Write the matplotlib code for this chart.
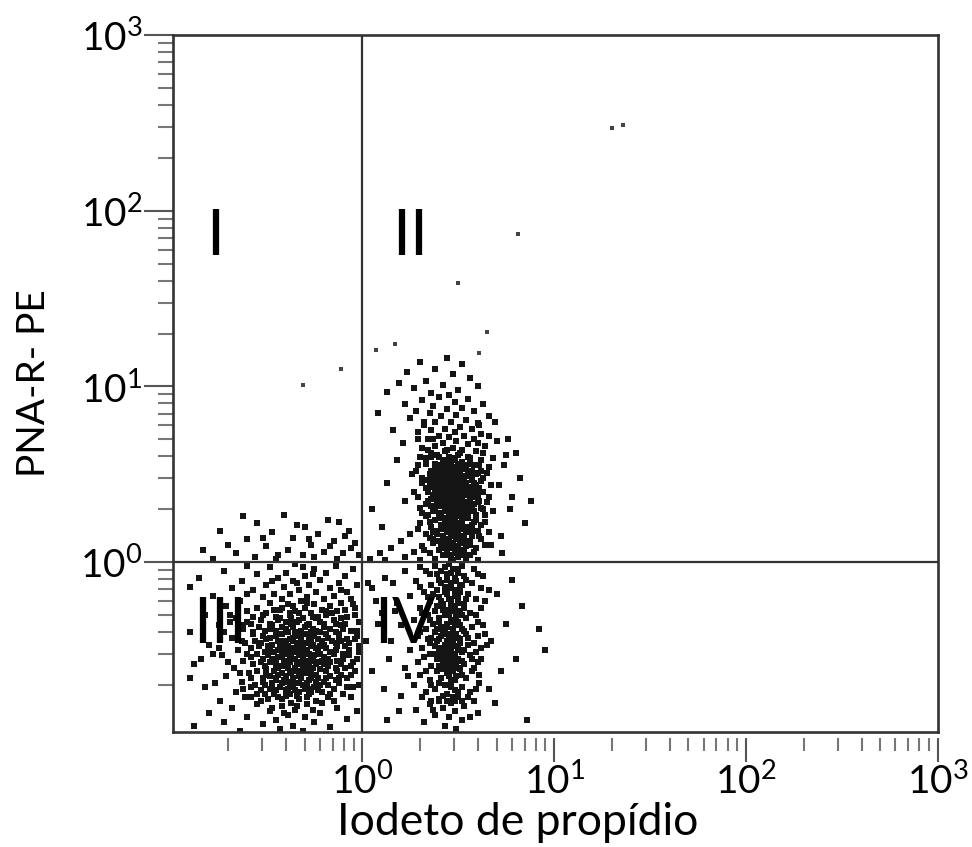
import numpy as np
import matplotlib
matplotlib.use("Agg")
import matplotlib.pyplot as plt
from matplotlib.ticker import LogLocator, NullFormatter, FixedLocator

plt.rcParams['font.family'] = ['Lato', 'DejaVu Sans']
plt.rcParams['mathtext.default'] = 'regular'

# events, stored as (log10 PI, log10 PNA-R-PE)
iii_log = [
    (-.62,.26),(-.41,.27),(-.18,.24),(-.55,.22),(-.30,.20),(-.12,.23),(-.74,.18),(-.47,.17),(-.23,.16),(-.07,.18),
    (-.36,.14),(-.60,.13),(-.15,.12),(-.27,.10),(-.50,.09),(-.04,.11),(-.83,.07),(-.39,.07),(-.20,.06),(-.66,.05),
    (-.10,.05),(-.31,.04),(-.56,.03),(-.02,.04),(-.45,.02),(-.25,.03),(-.13,.02),(-.70,.10),(-.34,.21),(-.09,.15),
    (-.52,.14),(-.44,.04),(-.78,.02),(-.06,.08),(-.28,.13),(-.17,.09),
    (-.35,-.01),(-.60,-.02),(-.14,-.02),(-.48,-.03),(-.25,-.04),(-.05,-.04),(-.72,-.05),(-.40,-.06),(-.19,-.06),
    (-.55,-.07),(-.30,-.08),(-.09,-.08),(-.85,-.09),(-.44,-.09),(-.22,-.10),(-.63,-.11),(-.36,-.11),(-.12,-.12),
    (-.50,-.13),(-.28,-.13),(-.03,-.13),(-.41,-.14),(-.17,-.15),(-.68,-.15),(-.33,-.16),(-.57,-.16),(-.24,-.17),
    (-.08,-.17),(-.46,-.18),(-.38,-.18),(-.78,-.19),(-.15,-.19),(-.29,-.20),(-.52,-.20),(-.20,-.21),(-.42,-.21),
    (-.06,-.21),(-.34,-.12),(-.26,-.07),(-.47,-.11),(-.11,-.16),(-.60,-.18),(-.31,-.03),(-.90,-.14),
    (-.64,-.22),(-.32,-.22),(-.11,-.23),(-.48,-.23),(-.25,-.24),(-.39,-.24),(-.71,-.25),(-.17,-.25),(-.55,-.26),
    (-.30,-.26),(-.04,-.26),(-.43,-.27),(-.21,-.27),(-.35,-.28),(-.60,-.28),(-.13,-.28),(-.27,-.29),(-.50,-.29),
    (-.82,-.30),(-.38,-.30),(-.19,-.30),(-.08,-.31),(-.45,-.31),(-.31,-.32),(-.66,-.32),(-.24,-.32),(-.53,-.33),
    (-.15,-.33),(-.40,-.34),(-.34,-.34),(-.02,-.34),(-.58,-.35),(-.28,-.35),(-.20,-.35),(-.47,-.36),(-.75,-.36),
    (-.11,-.36),(-.36,-.37),(-.42,-.37),(-.26,-.38),(-.62,-.38),(-.17,-.38),(-.51,-.39),(-.32,-.39),(-.06,-.39),
    (-.90,-.40),(-.39,-.40),(-.22,-.40),(-.29,-.23),(-.36,-.25),(-.23,-.31),(-.33,-.29),(-.44,-.33),(-.16,-.29),
    (-.30,-.37),(-.27,-.40),(-.48,-.38),(-.57,-.31),(-.37,-.32),(-.14,-.40),(-.42,-.26),(-.20,-.37),(-.69,-.34),
    (-.09,-.27),
    (-.57,-.41),(-.30,-.41),(-.12,-.41),(-.45,-.42),(-.25,-.42),(-.36,-.43),(-.68,-.43),(-.18,-.43),(-.50,-.44),
    (-.04,-.44),(-.41,-.45),(-.28,-.45),(-.21,-.45),(-.61,-.46),(-.34,-.46),(-.14,-.46),(-.47,-.47),(-.80,-.47),
    (-.26,-.47),(-.39,-.48),(-.09,-.48),(-.54,-.48),(-.31,-.49),(-.19,-.49),(-.44,-.50),(-.65,-.50),(-.23,-.50),
    (-.36,-.51),(-.02,-.51),(-.51,-.51),(-.28,-.52),(-.15,-.52),(-.42,-.53),(-.73,-.53),(-.33,-.53),(-.58,-.54),
    (-.20,-.54),(-.38,-.55),(-.10,-.55),(-.47,-.55),(-.26,-.56),(-.62,-.56),(-.31,-.57),(-.17,-.57),(-.53,-.57),
    (-.40,-.58),(-.88,-.58),(-.24,-.58),(-.06,-.59),(-.45,-.59),(-.35,-.60),(-.67,-.60),(-.29,-.60),
    (-.33,-.42),(-.38,-.44),(-.27,-.44),(-.32,-.47),(-.43,-.47),(-.22,-.48),(-.35,-.49),(-.48,-.50),(-.29,-.50),
    (-.40,-.51),(-.25,-.53),(-.37,-.53),(-.31,-.54),(-.45,-.56),(-.21,-.56),(-.34,-.57),(-.28,-.58),(-.42,-.59),
    (-.18,-.59),(-.49,-.53),(-.56,-.45),(-.14,-.50),(-.60,-.52),(-.11,-.58),(-.52,-.42),(-.75,-.49),(-.84,-.55),
    (-.07,-.53),
    (-.50,-.61),(-.22,-.61),(-.38,-.62),(-.13,-.62),(-.59,-.63),(-.31,-.63),(-.44,-.64),(-.26,-.64),(-.71,-.65),
    (-.17,-.65),(-.36,-.66),(-.52,-.66),(-.08,-.66),(-.41,-.67),(-.28,-.67),(-.63,-.68),(-.20,-.68),(-.47,-.69),
    (-.33,-.69),(-.12,-.69),(-.56,-.70),(-.38,-.70),(-.25,-.71),(-.82,-.71),(-.43,-.71),(-.15,-.72),(-.30,-.72),
    (-.53,-.73),(-.35,-.73),(-.21,-.74),(-.66,-.74),(-.46,-.75),(-.10,-.75),(-.28,-.75),(-.40,-.76),(-.58,-.77),
    (-.18,-.77),(-.33,-.78),(-.49,-.78),(-.24,-.79),(-.74,-.79),(-.37,-.80),
    (-.34,-.62),(-.27,-.62),(-.42,-.63),(-.48,-.65),(-.23,-.66),(-.32,-.66),(-.39,-.68),(-.45,-.67),(-.29,-.69),
    (-.51,-.70),(-.36,-.71),(-.22,-.70),(-.48,-.72),(-.40,-.73),(-.27,-.74),(-.55,-.75),(-.34,-.76),(-.44,-.77),
    (-.62,-.72),(-.05,-.71),(-.90,-.66),(-.15,-.79),
    (-.55,-.81),(-.29,-.81),(-.42,-.82),(-.13,-.83),(-.68,-.83),(-.35,-.84),(-.48,-.85),(-.22,-.86),(-.80,-.86),
    (-.39,-.87),(-.60,-.88),(-.30,-.88),(-.08,-.89),(-.45,-.90),(-.72,-.91),(-.25,-.91),(-.52,-.92),(-.36,-.93),
    (-.88,-.93),(-.17,-.94),(-.43,-.95),(-.64,-.96),(-.31,-.96),(-.03,-.85),
    (-.46,-.27),(-.19,-.28),(-.38,-.29),(-.52,-.30),(-.26,-.31),(-.11,-.32),(-.43,-.32),(-.33,-.33),(-.60,-.34),
    (-.22,-.34),(-.48,-.35),(-.37,-.35),(-.14,-.35),(-.29,-.36),(-.54,-.37),(-.40,-.38),(-.24,-.39),(-.45,-.39),
    (-.10,-.38),(-.35,-.40),(-.57,-.40),(-.19,-.41),(-.42,-.41),(-.28,-.42),(-.48,-.43),(-.12,-.43),(-.32,-.44),
    (-.23,-.44),(-.44,-.45),(-.36,-.45),(-.16,-.45),(-.53,-.46),(-.29,-.46),(-.07,-.46),(-.40,-.47),(-.20,-.47),
    (-.49,-.48),(-.27,-.48),(-.13,-.48),(-.37,-.49),(-.58,-.49),(-.24,-.49),(-.42,-.50),(-.33,-.50),(-.17,-.51),
    (-.46,-.51),(-.30,-.51),(-.55,-.52),(-.22,-.52),(-.39,-.52),(-.10,-.52),(-.44,-.54),(-.27,-.54),(-.35,-.55),
    (-.18,-.55),(-.52,-.55),(-.41,-.56),(-.29,-.56),(-.13,-.56),(-.48,-.57),(-.23,-.57),(-.38,-.57),(-.57,-.58),
    (-.32,-.58),(-.20,-.58),(-.44,-.60),(-.26,-.60),(-.14,-.60),(-.51,-.59),(-.39,-.60),(-.31,-.61),(-.46,-.62),
    (-.19,-.62),(-.55,-.62),(-.29,-.63),(-.37,-.63),(-.24,-.64),(-.50,-.64),(-.11,-.64),(-.40,-.65),(-.33,-.65),
    (-.58,-.66),(-.19,-.66),(-.27,-.66),(-.45,-.66),(-.36,-.68),(-.24,-.68),(-.52,-.68),(-.14,-.67),(-.42,-.69),
    (-.31,-.70),(-.18,-.70),(-.47,-.71),(-.28,-.72),(-.39,-.72),(-.58,-.71),(-.23,-.73),(-.45,-.73),(-.33,-.74),
    (-.51,-.75),(-.38,-.75),(-.17,-.75),(-.42,-.78),(-.29,-.77),(-.53,-.79),(-.21,-.80),(-.34,-.82),(-.47,-.83),
    (-.26,-.84),(-.41,-.86),(-.08,-.44),(-.05,-.57),(-.03,-.39),(-.06,-.64),(-.02,-.48),(-.04,-.30),
    (-.65,-.25),(-.72,-.40),(-.63,-.45),(-.70,-.57),(-.64,-.63),(-.77,-.69),(-.61,-.77),(-.69,-.30),(-.78,-.52),
    (-.62,-.36),(-.05,-.24),(-.09,-.35),(-.03,-.42),(-.07,-.50),(-.04,-.62),(-.09,-.60),(-.02,-.70),(-.06,-.77),
    (-.11,-.45),(-.03,-.55),(-.08,-.71),(-.12,-.66),
]

band_hi_log = [
    (.44,1.16),(.30,1.14),(.52,1.13),(.38,1.10),(.23,1.08),(.47,1.07),(.56,1.05),(.33,1.03),(.19,1.02),(.42,1.01),
    (.60,1.00),(.27,.99),(.50,.98),(.13,.97),(.36,.96),(.45,.95),
    (.40,.94),(.55,.93),(.31,.92),(.48,.91),(.22,.90),(.63,.90),(.37,.89),(.52,.88),(.44,.87),(.28,.86),
    (.58,.86),(.35,.85),(.49,.84),(.41,.83),(.66,.83),(.25,.82),(.54,.81),(.46,.80),(.38,.80),(.60,.79),
    (.32,.78),(.51,.77),(.43,.76),(.57,.76),(.36,.75),(.48,.74),(.29,.74),(.62,.73),(.40,.72),(.53,.72),
    (.45,.71),(.34,.70),(.58,.70),(.70,.69),(.49,.69),(.42,.68),(.21,.68),(.55,.67),(.38,.66),(.64,.66),
    (.47,.65),(.31,.65),(.52,.64),(.43,.63),(.59,.63),(.36,.62),(.50,.61),(.75,.61),(.45,.60),(.40,.60),
    (.56,.59),(.33,.59),(.48,.58),(.62,.58),(.42,.57),(.52,.57),(.38,.56),(.46,.56),(.58,.55),(.29,.55),
    (.44,.54),(.50,.54),(.66,.54),(.40,.53),(.54,.53),(.36,.52),(.47,.52),(.60,.51),(.43,.51),(.51,.50),
    (.38,.50),(.56,.49),(.45,.49),(.31,.48),(.49,.48),(.63,.48),(.41,.47),(.53,.47),(.46,.46),(.36,.46),
    (.58,.45),(.43,.45),(.50,.44),(.71,.44),(.39,.44),(.55,.43),(.47,.43),(.33,.42),(.61,.42),(.44,.42),
    (.52,.41),(.40,.41),(.57,.40),(.48,.40),(.27,.40),(.45,.39),(.54,.39),(.37,.38),(.60,.38),(.50,.37),
    (.42,.37),(.78,.37),(.47,.36),(.56,.36),(.34,.35),(.52,.35),(.44,.34),(.65,.34),(.39,.34),(.49,.33),
    (.58,.33),(.46,.32),(.41,.32),(.54,.31),(.30,.31),(.62,.31),(.48,.30),(.43,.30),(.68,.29),(.51,.29),
    (.37,.29),
    (.45,.58),(.53,.55),(.41,.55),(.49,.52),(.57,.52),(.35,.49),(.44,.48),(.52,.46),(.40,.45),(.47,.44),
    (.59,.44),(.36,.43),(.51,.42),(.42,.40),(.55,.41),(.46,.38),(.39,.36),(.53,.38),(.61,.35),(.45,.35),
    (.50,.32),(.36,.32),(.56,.30),(.44,.31),(.47,.29),
    (.53,.28),(.40,.28),(.46,.27),(.59,.27),(.33,.26),(.50,.26),(.43,.25),(.55,.25),(.38,.24),(.48,.24),
    (.64,.23),(.45,.23),(.52,.22),(.30,.22),(.41,.21),(.57,.21),(.47,.20),(.36,.20),(.50,.19),(.44,.19),
    (.60,.18),(.39,.18),(.54,.17),(.46,.17),(.25,.16),(.49,.16),(.42,.15),(.57,.15),(.35,.14),(.51,.14),
    (.45,.13),(.62,.13),(.40,.12),(.53,.12),(.20,.12),(.47,.11),(.37,.11),(.56,.10),(.43,.10),(.31,.09),
    (.50,.09),(.46,.08),(.15,.08),(.59,.08),(.40,.07),(.53,.07),(.27,.06),(.44,.06),(.48,.05),(.35,.05),
    (.09,.05),(.56,.04),(.42,.04),(.22,.03),(.50,.03),(.38,.02),(.04,.02),(.46,.02),(.60,.01),(.30,.01),
    (.12,.01),(.54,.01),
    (.74,.55),(.82,.48),(.77,.30),(.85,.22),(.72,.15),(.80,.62),(.69,.80),(.73,.05),(.88,.35),(.67,.10),
    (.76,.70),(.05,.30),(.13,.45),(.18,.58),(.10,.20),(.22,.35),(.16,.75),(.08,.85),(.26,.50),
    (.44,.64),(.51,.62),(.39,.61),(.55,.60),(.47,.59),(.42,.58),(.50,.56),(.44,.56),(.56,.56),(.39,.54),
    (.47,.54),(.52,.53),(.43,.52),(.55,.51),(.40,.51),(.48,.50),(.45,.51),(.53,.49),(.41,.49),(.50,.47),
    (.46,.47),(.57,.47),(.38,.47),(.43,.46),(.54,.45),(.48,.45),(.45,.44),(.52,.43),(.41,.43),(.49,.42),
    (.58,.42),(.46,.41),(.38,.41),(.53,.40),(.44,.40),(.50,.39),(.40,.39),(.56,.38),(.48,.38),(.43,.38),
    (.52,.37),(.45,.37),(.59,.37),(.41,.36),(.50,.35),(.47,.34),(.55,.34),(.42,.33),(.53,.33),(.46,.33),
    (.39,.32),(.57,.32),(.49,.31),(.44,.29),(.52,.30),(.58,.29),(.41,.27),(.49,.27),(.55,.27),(.45,.26),
    (.52,.25),(.40,.25),(.47,.24),(.58,.23),(.43,.22),(.49,.22),(.54,.20),(.46,.21),(.41,.19),(.52,.19),
    (.48,.18),(.44,.17),(.57,.18),(.50,.17),(.39,.16),(.46,.15),(.53,.15),(.43,.13),(.49,.13),(.56,.12),
    (.45,.11),(.51,.11),(.41,.10),(.48,.08),(.54,.09),(.43,.08),(.50,.06),(.45,.04),(.53,.04),(.47,.01),
    (.32,.80),(.61,.78),(.29,.70),(.66,.72),(.34,.64),(.63,.62),(.30,.60),(.68,.59),(.33,.56),(.61,.55),
    (.28,.52),(.65,.51),(.35,.50),(.62,.46),(.31,.45),(.67,.44),(.34,.40),(.63,.40),(.29,.37),(.66,.37),
    (.33,.33),(.60,.34),(.31,.28),(.64,.27),(.35,.23),(.62,.21),(.29,.19),(.66,.17),(.33,.16),(.61,.15),
    (.37,.13),(.64,.10),(.32,.07),(.58,.06),(.36,.60),(.60,.68),(.37,.70),(.35,.44),(.59,.50),(.38,.53),
    (.62,.52),(.34,.47),(.60,.41),(.36,.36),(.63,.30),(.38,.31),(.59,.24),(.34,.27),(.57,.19),(.37,.17),
]

band_lo_log = [
    (.45,-.01),(.38,-.02),(.52,-.02),(.30,-.03),(.47,-.04),(.58,-.04),(.41,-.05),(.22,-.05),(.50,-.06),(.35,-.07),
    (.44,-.07),(.63,-.08),(.48,-.09),(.12,-.09),(.40,-.10),(.54,-.10),(.28,-.11),(.46,-.12),(.57,-.12),(.36,-.13),
    (.43,-.14),(.51,-.14),(.05,-.15),(.39,-.16),(.48,-.16),(.66,-.16),(.32,-.17),(.55,-.18),(.44,-.18),(.25,-.19),
    (.50,-.20),(.40,-.20),(.59,-.21),(.46,-.22),(.35,-.22),(.18,-.23),(.53,-.24),(.42,-.24),(.48,-.25),(.30,-.26),
    (.62,-.26),(.45,-.27),(.38,-.28),(.51,-.28),(.10,-.29),(.56,-.29),(.43,-.30),(.34,-.30),
    (.49,-.31),(.40,-.32),(.54,-.32),(.27,-.33),(.46,-.33),(.60,-.34),(.37,-.35),(.44,-.35),(.51,-.36),(.20,-.36),
    (.41,-.37),(.57,-.37),(.47,-.38),(.33,-.38),(.53,-.39),(.43,-.40),(.38,-.40),(.64,-.41),(.49,-.41),(.29,-.42),
    (.45,-.42),(.55,-.43),(.40,-.44),(.51,-.44),(.15,-.45),(.47,-.45),(.35,-.46),(.58,-.46),(.43,-.47),(.50,-.48),
    (.38,-.48),(.46,-.49),(.62,-.49),(.25,-.50),(.53,-.50),(.41,-.51),(.48,-.52),(.44,-.53),(.56,-.53),(.32,-.54),
    (.50,-.55),(.39,-.55),(.46,-.56),(.60,-.57),(.42,-.57),(.53,-.58),(.36,-.59),(.48,-.59),(.22,-.60),(.45,-.60),
    (.47,-.34),(.42,-.39),(.50,-.43),(.46,-.46),(.40,-.49),(.52,-.51),(.45,-.54),(.49,-.57),(.38,-.52),(.55,-.47),
    (.44,-.41),(.48,-.36),(.36,-.43),(.57,-.55),(.43,-.58),
    (.51,-.61),(.39,-.62),(.57,-.62),(.44,-.63),(.30,-.64),(.49,-.65),(.41,-.66),(.54,-.66),(.35,-.67),(.46,-.68),
    (.61,-.69),(.27,-.70),(.43,-.70),(.52,-.71),(.38,-.72),(.48,-.73),(.33,-.74),(.56,-.74),(.44,-.75),(.20,-.76),
    (.50,-.77),(.40,-.78),(.58,-.79),(.46,-.80),(.35,-.81),(.53,-.82),(.42,-.83),(.28,-.84),(.48,-.85),(.60,-.86),
    (.38,-.87),(.45,-.88),(.52,-.90),(.32,-.91),(.43,-.93),(.49,-.95),
    (.36,-.79),(.40,-.79),(.44,-.79),(.48,-.79),(.52,-.79),
    (.03,-.12),(.08,-.35),(.14,-.55),(.05,-.62),(.17,-.28),(.11,-.72),(.02,-.45),(.19,-.85),(.07,-.22),(.13,-.90),
    (.24,-.65),(.16,-.12),
    (.70,-.18),(.75,-.35),(.92,-.38),(.67,-.45),(.80,-.55),(.72,-.62),(.95,-.50),(.69,-.80),(.86,-.90),(.78,-.10),
    (.66,-.72),(.83,-.25),
    (.43,-.03),(.50,-.04),(.46,-.06),(.39,-.07),(.53,-.08),(.44,-.10),(.49,-.11),(.41,-.12),(.52,-.13),(.46,-.15),
    (.43,-.17),(.51,-.17),(.37,-.18),(.48,-.19),(.45,-.21),(.54,-.21),(.41,-.22),(.50,-.23),(.46,-.25),(.39,-.25),
    (.53,-.26),(.42,-.27),(.48,-.28),(.45,-.30),(.52,-.30),(.40,-.34),(.50,-.34),(.44,-.37),(.52,-.38),(.39,-.38),
    (.47,-.40),(.54,-.41),(.41,-.42),(.48,-.43),(.44,-.45),(.51,-.46),(.39,-.45),(.47,-.48),(.43,-.50),(.50,-.50),
    (.46,-.52),(.41,-.54),(.48,-.55),(.52,-.56),(.44,-.56),(.46,-.58),(.40,-.59),(.50,-.60),(.47,-.62),(.42,-.61),
    (.45,-.65),(.52,-.64),(.48,-.67),(.40,-.69),(.46,-.71),(.50,-.74),(.42,-.76),(.47,-.77),
    (.33,-.05),(.60,-.07),(.30,-.14),(.62,-.15),(.34,-.20),(.64,-.22),(.31,-.29),(.59,-.30),(.35,-.33),(.63,-.36),
    (.30,-.40),(.60,-.42),(.34,-.44),(.65,-.47),(.31,-.49),(.59,-.51),(.35,-.52),(.62,-.55),(.29,-.57),(.58,-.60),
    (.33,-.62),(.61,-.64),(.36,-.70),(.59,-.72),(.31,-.77),(.55,-.77),(.37,-.84),(.56,-.88),
]

stray_log = [
    (1.30,2.47),(1.36,2.49),(.81,1.87),(.50,1.59),(-.31,1.01),(-.11,1.10),
    (.65,1.31),(.61,1.19),(.17,1.24),(.07,1.21),
]

quad_labels = ["I", "II", "III", "IV"]
quad_x = [0.171, 1.78, 0.182, 1.67]
quad_y = [70.8, 70.8, 0.438, 0.438]
decades = [1, 10, 100, 1000]

pts = np.array(iii_log + band_hi_log + band_lo_log)
x = 10 ** pts[:, 0]
y = 10 ** pts[:, 1]
stray = np.array(stray_log)

fig = plt.figure(figsize=(9.72, 8.47), dpi=100)
ax = fig.add_axes([0.178, 0.1358, 0.787, 0.8229])
ax.scatter(x, y, s=13, marker='s', c='#151515', linewidths=0)
ax.scatter(10 ** stray[:, 0], 10 ** stray[:, 1], s=6, marker='s', c='#444444', linewidths=0)

ax.set_xscale('log')
ax.set_yscale('log')
ax.set_xlim(0.103, 1000)
ax.set_ylim(0.108, 1000)

ax.axvline(1, color='#333333', lw=1.6)
ax.axhline(1, color='#333333', lw=1.6)

for lab, qx, qy in zip(quad_labels, quad_x, quad_y):
    ax.text(qx, qy, lab, fontsize=46, ha='center', va='center', color='black')

for s in ax.spines.values():
    s.set_linewidth(1.9)
    s.set_color('#333333')

# y ticks
ax.yaxis.set_major_locator(FixedLocator(decades))
ax.yaxis.set_minor_locator(LogLocator(base=10, subs=np.arange(2, 10), numticks=20))
ax.yaxis.set_minor_formatter(NullFormatter())
ax.tick_params(axis='y', which='major', direction='out', length=21, width=1.5,
               color='#555555', labelsize=28, pad=1)
ax.tick_params(axis='y', which='minor', direction='out', length=11, width=1.5, color='#777777')

# x ticks drawn a little below the frame
ax.tick_params(axis='x', which='both', length=0, labelbottom=False)
sec = ax.secondary_xaxis(-0.008)
sec.spines['bottom'].set_visible(False)
sec.xaxis.set_major_locator(FixedLocator(decades))
sec.xaxis.set_minor_locator(LogLocator(base=10, subs=np.arange(2, 10), numticks=20))
sec.xaxis.set_minor_formatter(NullFormatter())
sec.tick_params(axis='x', which='major', direction='out', length=17, width=1.5,
                color='#555555', labelsize=28, pad=1)
sec.tick_params(axis='x', which='minor', direction='out', length=9, width=1.5, color='#777777')

fig.text(518 / 972, 0.014, "Iodeto de propídio", fontsize=32, ha='center', va='baseline')
ax.set_ylabel("PNA-R- PE", fontsize=28, labelpad=20)

fig.savefig("out.png", dpi=100)
